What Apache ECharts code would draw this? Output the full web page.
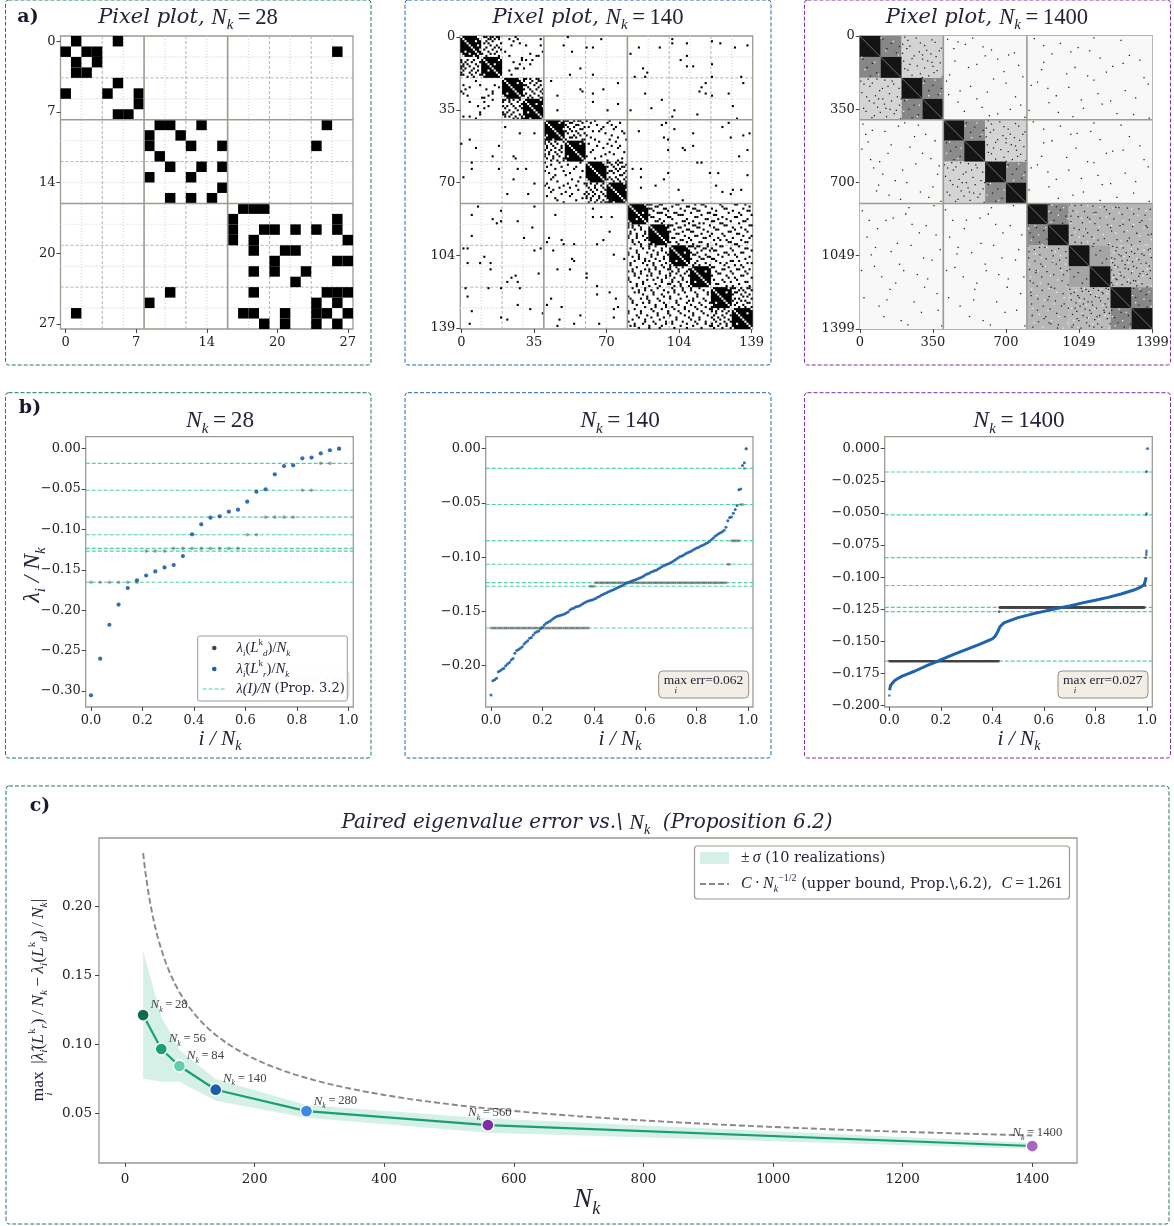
<!DOCTYPE html>
<html><head><meta charset="utf-8">
<style>html,body{margin:0;padding:0;background:#fff}#c{width:1174px;height:1226px}</style>
<script src="https://cdn.jsdelivr.net/npm/echarts@6/dist/echarts.min.js"></script>
</head><body><div id="c"></div>
<script>
// ------------------ DATA ------------------
const ticks28=[0,6.75,13.5,20.25,27], ticks140=[0,34.75,69.5,104.25,139], ticks1400=[0,349.75,699.5,1049.25,1399];
const solid28=[7.5,15.5], dashed28=[3.5,11.5,19.5,23.5], dotted28=[1.5,5.5,9.5,13.5,17.5,21.5,25.5];
const solid140=[39.5,79.5], dashed140=[19.5,59.5,99.5,119.5], dotted140=[9.5,29.5,49.5,69.5,89.5,109.5,129.5];
const solid1400=[399.5,799.5], dashed1400=[199.5,599.5,999.5,1199.5], dotted1400=[99.5,299.5,499.5,699.5,899.5,1099.5,1299.5];
// upper-triangle black cells, symmetric matrix
const edges28=[[0,1],[0,5],[1,2],[1,3],[1,26],[2,3],[4,5],[5,7],[6,7],[8,9],[8,10],[8,13],[8,25],[9,11],[10,12],[10,15],[10,24],[12,13],[12,15],[14,15],[16,17],[16,18],[16,19],[17,26],[18,19],[18,20],[18,22],[18,24],[18,26],[19,27],[20,21],[20,22],[21,26],[21,27],[22,23],[24,25],[24,26],[24,27],[25,26],[26,27]];
// [row, columns...] inside the three communities
const intra140=[
[0,11,12,14,15,17,18,26],[1,13,14,16,18,23,27,38],[2,12,15,25],[3,11,13,19,28],[4,14,17,24,31,38],[5,12,16,18],[6,11,15,19],[7,13,17,21,39],[8,10,14,16,33],[9,12,18,23,36,37],
[10,29],[11,29,31,34],[12,25],[13,28,33],[15,26,27,30],[16,23],[18,24],
[20,30,31,33,36,37],[21,30,34,37,38],[22,33,36],[23,30,31,35,38],[24,32,37],[25,30,33,36,39],[26,34,38],[27,31,35,39],[28,30,33,37],[29,32,34,38,39],
[40,50,51,54,56,57,60,64,71],[41,52,53,58,62,70,76],[42,50,55,56,65,72],[43,51,54,59,61,68,74],[44,52,57,58,67,73],[45,50,53,55,63,66,77],[46,51,56,59,69,78],[47,54,57,60,72],[48,52,53,55,62,75],[49,50,58,59,64,71,79],
[50,66,74],[51,61,70],[52,65,72,76],[53,68,75],[54,63],[55,62,71,78],[56,69,73],[57,60,67],[58,64,77],[59,70,75],
[60,70,71,74,76,77],[61,72,75,79],[62,70,73,77,78],[63,74,76],[64,71,72,75,79],[65,70,73,78],[66,76,77],[67,71,74,79],[68,70,72,75,78],[69,73,76,79],
[80,90,91,95,96,103,104,112,115,116,124,131,132,136],[81,93,94,101,108,109,117,125,138],[82,90,91,97,98,105,111,112,120,126,127,135],[83,92,99,107,113,114,122,130,137,138],[84,94,95,96,102,103,110,118,119,128,133],[85,90,98,104,105,106,115,121,122,134,139],[86,91,92,99,100,112,113,125,131,132],[87,95,101,108,117,118,123,127,137],[88,93,94,97,106,107,111,120,121,129,135,136],[89,96,103,109,114,116,124,125,133],
[90,100,101,107,111,112,119,126,127,138,139],[91,104,105,113,114,121,130,134],[92,102,108,109,116,122,123,131,136],[93,100,106,110,111,118,128,129,137],[94,103,104,115,120,125,132,133],[95,107,112,113,119,126,135,139],[96,101,102,109,116,117,123,130,138],[97,105,106,110,121,124,127,134],[98,100,103,108,114,115,128,129,136,137],[99,104,111,118,122,131,132],
[100,110,111,113,114,118,124,125,133],[101,112,116,117,120,129,136,137],[102,115,119,121,122,130,139],[103,110,113,126,127,134,135],[104,111,112,117,123,128,131],[105,114,118,119,125,132,138],[106,110,115,116,120,121,136],[107,113,122,129,130,133],[108,112,117,124,127,137,139],[109,111,114,119,126,131,134],
[110,120,121,128,135],[111,125,126,132,133,138],[112,122,129,136],[113,123,124,130,137],[114,120,127,134,135],[115,128,131,139],[116,121,125,132],[117,126,129,136,137],[118,122,123,133],[119,127,130,138],
[120,130,131,134,137,138],[121,133,135,139],[122,131,132,136],[123,130,134,138],[124,135,137],[125,131,133,139],[126,130,134,136],[127,132,137,138],[128,131,135],[129,133,136,139]];
// [row, columns...] between communities
const inter140=[[0,51],[1,67,101],[2,120],[3,101,108,124],[4,49,137],[5,60,63,85,95,131],[7,53],[8,81],[9,108],[11,105],[13,120],[14,108,111],[15,57,87],[17,89],[18,52,63],[19,83,88,120,134],[21,43],[22,75,117,135],[24,115],[25,57,68],[26,58,114],[27,63,88,117,128],[28,46,120],[30,96],[31,63],[32,75],[33,130],[34,91],[35,46,70,81,102],[37,113],[38,101],[39,132],[41,98,128],[42,96],[43,125],[44,102],[45,85],[46,111,138],[47,135],[48,97,129],[49,99],[52,111],[53,106],[54,99,107,137],[57,133],[60,113,115],[63,82,86],[65,99,119,123],[66,137],[67,86],[68,97],[71,93,122],[72,86],[73,104,130,134],[74,125],[75,129],[78,106]];
// dense black blocks on the diagonal [first,last]
const blocks140=[[0,9],[10,19],[20,29],[30,39],[40,49],[50,59],[60,69],[70,79],[80,89],[90,99],[100,109],[110,119],[120,129],[130,139]];
const holes140=[[0,8],[0,9],[1,9],[2,7],[4,8],[6,9],[10,19],[11,18],[13,16],[20,28],[20,29],[21,29],[22,27],[30,38],[32,36],[33,39],[40,48],[41,47],[44,49],[50,59],[51,57],[60,68],[60,69],[61,69],[70,78],[73,79],[80,88],[81,89],[84,87],[90,98],[92,99],[100,108],[101,109],[103,107],[110,119],[112,117],[120,128],[122,127],[130,139],[132,137]];
const blocks1400=[[0,99],[100,199],[200,299],[300,399],[400,499],[500,599],[600,699],[700,799],[800,899],[900,999],[1000,1099],[1100,1199],[1200,1299],[1300,1399]];
// density blocks: [c0,c1,r0,r1,grey]
const tints1400=[[100,199,0,99,135],[300,399,200,299,135],[500,599,400,499,140],[700,799,600,699,140],[200,399,0,199,212],[600,799,400,599,212],[900,999,800,899,140],[1100,1199,1000,1099,165],[1300,1399,1200,1299,135],[1000,1399,800,999,182],[1200,1399,1000,1199,186],[400,799,0,399,248],[800,1399,0,399,248],[800,1399,400,799,248]];
const dots1400=[[15,420],[40,505],[66,630],[90,712],[120,455],[135,560],[170,690],[195,780],[215,415],[240,530],[268,610],[290,745],[315,470],[340,585],[372,660],[388,790],[28,470],[52,590],[80,740],[110,660],[150,520],[185,430],[225,700],[262,480],[300,560],[330,770],[360,500],[380,620],[10,540],[60,450],[95,600],[140,760],[205,640],[280,425],[350,720],
[12,835],[35,960],[70,1100],[92,1290],[125,880],[150,1030],[172,1180],[198,1360],[220,850],[245,1000],[275,1140],[295,1320],[318,905],[345,1070],[370,1230],[392,1385],[20,1250],[55,1045],[85,920],[115,1340],[145,1210],[180,990],[210,1120],[235,820],[260,1270],[285,940],[325,1160],[355,810],[385,1020],[45,880],[105,1150],[160,870],[230,1380],[305,1060],[375,1310],[8,1120],[75,1010],[130,1260],[190,1090],[250,900],[310,1200],[365,950],
[410,830],[430,960],[455,1105],[480,1290],[510,880],[535,1035],[560,1180],[590,1360],[615,850],[640,1000],[665,1140],[695,1320],[720,905],[745,1070],[770,1230],[790,1385],[425,1250],[465,1040],[500,920],[525,1340],[550,1210],[580,990],[605,1120],[630,820],[655,1270],[685,940],[710,1160],[735,810],[760,1020],[785,1150],[445,880],[495,1150],[575,870],[625,1380],[680,1060],[750,1310],[415,1120],[470,1010],[545,1260],[600,1090],[650,900],[705,1200],[775,950],
[20,230],[45,310],[70,380],[95,260],[120,210],[145,350],[180,290],[195,395],[10,270],[60,225],[85,340],[110,300],[135,240],[165,370],[30,360],[75,285],[155,215],[190,330],[5,215],[18,345],[33,290],[48,240],[58,390],[68,320],[82,205],[98,365],[108,250],[118,325],[128,385],[142,275],[152,310],[162,230],[175,355],[188,250],[198,300],[40,205],[90,300],[125,345],
[420,630],[445,710],[470,780],[495,660],[520,610],[545,750],[580,690],[595,795],[410,670],[460,625],[485,740],[510,700],[535,640],[565,770],[430,760],[475,685],[555,615],[590,730],[405,615],[418,745],[433,690],[448,640],[458,790],[468,720],[482,605],[498,765],[508,650],[518,725],[528,785],[542,675],[552,710],[562,630],[575,755],[588,650],[598,700],[440,605],[490,700],[525,745],
[110,15],[130,60],[150,35],[175,80],[190,50],[310,215],[330,260],[350,235],[375,280],[390,250],[510,415],[530,460],[550,435],[575,480],[590,450],[710,615],[730,660],[750,635],[775,680],[790,650],
[810,1030],[830,1180],[850,1310],[875,1100],[900,1260],[925,1050],[950,1380],[975,1140],[820,1240],[860,1010],[890,1340],[915,1200],[940,1090],[965,1290],[985,1030],[845,1120],[905,1370],[1010,1230],[1040,1350],[1070,1280],[1095,1220],[1120,1390],[1145,1250],[1170,1320],[1190,1210],[1030,1300],[1060,1205],[1085,1370],[1110,1270],[1135,1340],[1160,1225],[1180,1295],[1015,1390],[1050,1250],[1100,1310],
[805,1005],[808,1060],[812,1115],[815,1170],[818,1225],[822,1280],[825,1335],[828,1390],[835,1020],[838,1075],[842,1130],[848,1195],[852,1255],[855,1365],[862,1045],[866,1090],[870,1150],[873,1215],[878,1290],[882,1350],[886,1010],[892,1065],[896,1125],[902,1185],[906,1245],[910,1305],[914,1375],[918,1025],[922,1080],[928,1140],[932,1205],[936,1265],[942,1325],[946,1395],[952,1015],[956,1070],[960,1110],[968,1170],[972,1230],[978,1280],[982,1340],[988,1060],[992,1120],[996,1190],[998,1300],
[1005,1210],[1012,1260],[1018,1330],[1022,1380],[1026,1225],[1034,1275],[1038,1315],[1044,1240],[1048,1360],[1054,1290],[1058,1395],[1064,1220],[1068,1335],[1074,1255],[1078,1305],[1082,1210],[1088,1345],[1092,1270],[1098,1385],[1104,1235],[1108,1325],[1114,1285],[1118,1205],[1124,1355],[1128,1245],[1132,1300],[1138,1375],[1142,1215],[1148,1335],[1152,1265],[1158,1390],[1164,1230],[1168,1310],[1174,1280],[1178,1205],[1184,1350],[1188,1255],[1194,1325],[1198,1375],
[805,905],[815,940],[830,960],[845,915],[860,985],[880,930],[895,970],[1205,1310],[1220,1345],[1235,1370],[1250,1320],[1265,1390],[1285,1335],[1295,1375],[1005,1115],[1025,1150],[1045,1130],[1065,1180],[1085,1160]];
// white gaps inside the grey speckle
const gaps1400=[[804,1010],[810,1090],[818,1150],[822,1210],[826,1300],[834,1370],[840,1040],[846,1240],[852,1120],[858,1330],[864,1180],[870,1060],[876,1390],[882,1260],[888,1100],[894,1010],[900,1310],[906,1205],[912,1145],[918,1360],[924,1075],[930,1280],[936,1030],[942,1225],[948,1165],[954,1340],[960,1050],[966,1120],[972,1395],[978,1250],[984,1090],[990,1195],[996,1370],[1004,1250],[1014,1300],[1024,1360],[1034,1215],[1044,1390],[1054,1265],[1064,1325],[1074,1205],[1084,1285],[1094,1345],[1104,1225],[1114,1375],[1124,1305],[1134,1240],[1144,1355],[1154,1210],[1164,1285],[1174,1335],[1184,1230],[1194,1395],
[808,920],[820,975],[838,905],[855,950],[872,995],[890,915],[1208,1340],[1222,1385],[1240,1305],[1258,1360],[1275,1320],[1292,1395],[102,10],[125,72],[160,25],[185,90],[305,225],[330,285],[360,210],[385,275],[505,430],[535,485],[560,415],[585,470],[705,625],[735,690],[760,610],[785,665]];
const xTicksFrac=[0,0.2,0.4,0.6,0.8,1];
const prop32=[-0.0182,-0.0515,-0.0848,-0.1065,-0.1235,-0.1268,-0.1653];
const ticksY28=[0,-0.05,-0.10,-0.15,-0.20,-0.25,-0.30], ticksY140=[0,-0.05,-0.10,-0.15,-0.20], ticksY1400=[0,-0.025,-0.05,-0.075,-0.10,-0.125,-0.15,-0.175,-0.20];
const blue28=[-0.3054,-0.260,-0.218,-0.193,-0.1725,-0.163,-0.157,-0.152,-0.147,-0.144,-0.133,-0.106,-0.0937,-0.0854,-0.0838,-0.078,-0.0755,-0.0656,-0.0532,-0.0503,-0.0318,-0.0215,-0.0206,-0.012,-0.0111,-0.0058,-0.002,0];
// [value,count] runs of the deterministic spectrum
const greyRuns28=[[-0.1653,6],[-0.1268,3],[-0.1235,8],[-0.1065,2],[-0.0848,4],[-0.0515,2],[-0.0182,2],[0,1]];
const greyRuns140=[[-0.1653,54],[-0.1268,3],[-0.1235,72],[-0.1065,2],[-0.0848,5],[-0.0515,2],[-0.0182,1],[0,1]];
const greyRuns1400=[[-0.1653,596],[-0.1268,3],[-0.1235,790],[-0.1065,4],[-0.0848,3],[-0.0515,2],[-0.0182,1],[0,1]];
const blue140=[-0.227,-0.2138,-0.213,-0.2117,-0.2055,-0.2046,-0.2034,-0.2025,-0.2,-0.1985,-0.197,-0.1948,-0.1935,-0.1886,-0.186,-0.185,-0.184,-0.1825,-0.18,-0.1785,-0.177,-0.1748,-0.174,-0.1717,-0.1696,-0.1687,-0.168,-0.166,-0.1647,-0.1625,-0.161,-0.16,-0.159,-0.158,-0.1565,-0.1555,-0.1545,-0.154,-0.1535,-0.153,-0.1525,-0.1515,-0.1505,-0.1488,-0.1475,-0.147,-0.146,-0.1455,-0.145,-0.144,-0.143,-0.142,-0.141,-0.1405,-0.14,-0.1395,-0.1388,-0.138,-0.137,-0.1362,-0.1352,-0.1345,-0.1335,-0.1328,-0.132,-0.1312,-0.1305,-0.1298,-0.129,-0.128,-0.1272,-0.1265,-0.1258,-0.1245,-0.1238,-0.1232,-0.1225,-0.1218,-0.1212,-0.1205,-0.1198,-0.1192,-0.1185,-0.1175,-0.1165,-0.1155,-0.115,-0.114,-0.1132,-0.1125,-0.112,-0.111,-0.11,-0.1088,-0.108,-0.1072,-0.1065,-0.1058,-0.105,-0.104,-0.1028,-0.1018,-0.1005,-0.0995,-0.099,-0.098,-0.0968,-0.096,-0.0952,-0.0945,-0.0935,-0.0925,-0.0915,-0.091,-0.09,-0.0892,-0.0885,-0.0875,-0.0868,-0.0855,-0.084,-0.0825,-0.0808,-0.0795,-0.0785,-0.0775,-0.0765,-0.0752,-0.0725,-0.0665,-0.0635,-0.063,-0.0595,-0.056,-0.0525,-0.0378,-0.0372,-0.0155,-0.013,0];
const blue1400x=[0.001,0.005,0.01,0.02,0.03,0.05,0.07,0.1,0.15,0.19,0.25,0.3,0.35,0.4,0.41,0.42,0.43,0.44,0.45,0.5,0.55,0.6,0.65,0.7,0.75,0.8,0.85,0.9,0.95,0.98,0.99,0.995,0.997];
const blue1400y=[-0.188,-0.184,-0.1826,-0.1805,-0.1792,-0.177,-0.1754,-0.173,-0.1684,-0.1652,-0.16,-0.1562,-0.1523,-0.148,-0.1463,-0.1429,-0.1385,-0.1364,-0.1351,-0.1315,-0.1289,-0.1266,-0.1243,-0.1224,-0.12,-0.118,-0.1157,-0.1131,-0.11,-0.1074,-0.1056,-0.1022,-0.1];
const blueOut1400=[[0,-0.192],[0.998,-0.0825],[0.9985,-0.081],[0.999,-0.0795],[0.9992,-0.0505],[0.9995,-0.0178],[1.004,0]];
const nk=[28,56,84,140,280,560,1400];
const errMean=[0.121,0.0964,0.0841,0.0669,0.0514,0.0413,0.0261];
const errUpper=[0.1674,0.1198,0.0957,0.0746,0.0558,0.0461,0.0285];
const errLower=[0.0751,0.0727,0.0727,0.0589,0.0466,0.0357,0.0240];
const boundN=[28,30,32,34,36,38,40,43,46,50,56,63,70,77,84,92,100,110,120,130,140,155,170,185,200,220,240,260,280,310,340,370,400,440,480,520,560,630,700,775,850,925,1000,1100,1200,1300,1400];
const boundV=[0.2383,0.2302,0.2229,0.2163,0.2102,0.2046,0.1994,0.1923,0.1859,0.1783,0.1685,0.1589,0.1507,0.1437,0.1376,0.1315,0.1261,0.1202,0.1151,0.1106,0.1066,0.1013,0.0967,0.0927,0.0892,0.085,0.0814,0.0782,0.0754,0.0716,0.0684,0.0656,0.0631,0.0601,0.0576,0.0553,0.0533,0.0502,0.0477,0.0453,0.0433,0.0415,0.0399,0.038,0.0364,0.035,0.0337];
const cXTicks=[0,200,400,600,800,1000,1200,1400], cYTicks=[0.05,0.10,0.15,0.20];
const markerColors=['#0f6b50','#1a9e75','#5fcfa8','#1a5fa8','#3a8ae0','#7b2fa0','#a868c0'];
const labelShift=[[26,-10],[26,-10],[26,-10],[29,-11],[29,-10],[2,-12],[5,-13]];

// ------------------ HELPERS ------------------
const SERIF='"DejaVu Serif"', MATH='"Liberation Serif"', INK='#23233a', SPINE='#9b9b90';
function rich(s,c){c=c||INK;const lh=Math.round(s*1.45),sm=Math.round(s*0.7);
 return {t:{fontFamily:SERIF,fontStyle:'italic',fontSize:s,lineHeight:lh,fill:c,color:c},
  i:{fontFamily:MATH,fontStyle:'italic',fontSize:s*1.1,lineHeight:lh,fill:c,color:c},
  u:{fontFamily:MATH,fontSize:s*1.08,lineHeight:lh,fill:c,color:c},
  d:{fontFamily:SERIF,fontSize:s,lineHeight:lh,fill:c,color:c},
  s:{fontFamily:MATH,fontStyle:'italic',fontSize:sm,lineHeight:sm+2,verticalAlign:'bottom',fill:c,color:c},
  p:{fontFamily:MATH,fontSize:sm,lineHeight:sm+2,verticalAlign:'top',fill:c,color:c}};}
function txt(x,y,text,size,opt){opt=opt||{};return {type:'text',x:x,y:y,z:opt.z||100,rotation:opt.rot||0,silent:true,
  style:{text:text,rich:rich(size,opt.color),align:opt.align||'center',verticalAlign:'middle',fill:opt.color||INK,
  fontFamily:opt.family||MATH,fontSize:size,fontWeight:opt.weight||'normal',opacity:opt.opacity==null?1:opt.opacity}};}
const grid=[],xAxis=[],yAxis=[],series=[],graphic=[];
function axisCommon(ticks,fmt,fs,m){return {type:'value',axisLine:{show:false,onZero:false},splitLine:{show:false},
  axisTick:{show:true,length:4,customValues:ticks,lineStyle:{color:'#444',width:1}},
  axisLabel:{show:true,customValues:ticks,formatter:fmt,fontFamily:SERIF,fontSize:fs,color:'#222',margin:m,hideOverlap:false,showMinLabel:true,showMaxLabel:true}};}
function addPanel(box,xmin,xmax,ymin,ymax,xt,yt,xf,yf,inverse,fs,xm,ym){const k=grid.length;fs=fs||13;xm=xm||7;ym=ym||5;
 grid.push({left:box[0],top:box[1],width:box[2],height:box[3],show:true,borderColor:SPINE,borderWidth:1.3,backgroundColor:'#fff'});
 xAxis.push(Object.assign(axisCommon(xt,xf,fs,xm),{gridIndex:k,min:xmin,max:xmax,position:'bottom'}));
 yAxis.push(Object.assign(axisCommon(yt,yf,fs,ym),{gridIndex:k,min:ymin,max:ymax,inverse:!!inverse,position:'left'}));
 return k;}
function gridLines(k,vals,color,w,dash,z){series.push({type:'custom',xAxisIndex:k,yAxisIndex:k,z:z,silent:true,clip:true,animation:false,
 encode:{x:0},data:vals.map(v=>[v]),renderItem:(p,api)=>{const c=api.coord([api.value(0),api.value(0)]),s=p.coordSys;
  const st={stroke:color,lineWidth:w,lineDash:dash,fill:null};
  return {type:'group',children:[{type:'line',shape:{x1:c[0],y1:s.y,x2:c[0],y2:s.y+s.height},style:st},{type:'line',shape:{x1:s.x,y1:c[1],x2:s.x+s.width,y2:c[1]},style:st}]};}});}
function rects(k,data,color,z,pad){pad=pad==null?0.5:pad;series.push({type:'custom',xAxisIndex:k,yAxisIndex:k,z:z,silent:true,clip:true,animation:false,progressive:0,
 encode:{x:[0,1],y:[2,3]},data:data,renderItem:(p,api)=>{const a=api.coord([api.value(0)-pad,api.value(2)-pad]),b=api.coord([api.value(1)+pad,api.value(3)+pad]);
  let f=color;if(f==null){const g=api.value(4);f='rgb('+g+','+g+','+g+')';}
  return {type:'rect',shape:{x:a[0],y:a[1],width:b[0]-a[0],height:b[1]-a[1]},style:{fill:f}};}});}
function hLines(k,vals){series.push({type:'custom',xAxisIndex:k,yAxisIndex:k,z:2,silent:true,clip:true,animation:false,encode:{x:0,y:1},
 data:vals.map(v=>[0,v]),renderItem:(p,api)=>{const c=api.coord([0,api.value(1)]),s=p.coordSys;
  return {type:'line',shape:{x1:s.x,y1:c[1],x2:s.x+s.width,y2:c[1]},style:{stroke:'#4fd0a8',lineWidth:1.1,lineDash:[4,2],fill:null}};}});}
function mirror(list){const out=[];list.forEach(e=>{out.push([e[1],e[1],e[0],e[0]]);out.push([e[0],e[0],e[1],e[1]]);});return out;}
const rowsToPairs=rows=>{const o=[];rows.forEach(r=>r.slice(1).forEach(c=>o.push([r[0],c])));return o;};
const round0=v=>String(Math.round(v)), neg=(v,d)=>(v<0?'\u2212':'')+Math.abs(v).toFixed(d);
function pixelPanel(box,n,ticks,sol,das,dot){const k=addPanel(box,-0.5,n-0.5,-0.5,n-0.5,ticks,ticks,round0,round0,true);
 gridLines(k,dot,'#dcdcd6',1.4,[1,2],1);gridLines(k,das,'#b4b4ac',1,[3,2],1);gridLines(k,sol,'#9b9b90',1.6,null,6);return k;}
function expand(runs,n){const o=[];let i=0;runs.forEach(r=>{for(let j=0;j<r[1];j++){o.push([i/n,r[0]]);i++;}});return o;}
function specPanel(box,xmin,xmax,ymin,ymax,yt,dec,runs,n,gsize){const k=addPanel(box,xmin,xmax,ymin,ymax,xTicksFrac,yt,v=>v.toFixed(1),v=>neg(v,dec));
 hLines(k,prop32);
 series.push({type:'scatter',xAxisIndex:k,yAxisIndex:k,z:3,silent:true,animation:false,symbolSize:gsize,itemStyle:{color:'#444',opacity:0.45},data:expand(runs,n)});return k;}
function frame(x,y,w,h,c){graphic.push({type:'rect',z:90,silent:true,shape:{x:x,y:y,width:w,height:h,r:3},style:{fill:null,stroke:c,lineWidth:1,lineDash:[4,2]}});}
function errBox(x,val,opacity){graphic.push({type:'rect',z:opacity<1?91:95,silent:true,shape:{x:x,y:671,width:90,height:27,r:4},style:{fill:'#f2eee6',stroke:'#8f8f85',lineWidth:1,opacity:opacity}});
 graphic.push(txt(x+5,680,'max err='+val,13.5,{align:'left',color:INK,z:opacity<1?91:96,opacity:opacity}));
 if(opacity===1)graphic.push(txt(x+17,690,'{s|i}',13,{z:96}));}

// ------------------ PIXEL PANELS ------------------
const A=[36,293];
const p28=pixelPanel([60.5,A[0],292.5,A[1]],28,ticks28,solid28,dashed28,dotted28);
rects(p28,mirror(edges28),'#000',4);
const p140=pixelPanel([460.3,A[0],292.4,A[1]],140,ticks140,solid140,dashed140,dotted140);
rects(p140,blocks140.map(b=>[b[0],b[1],b[0],b[1]]),'#000',3);
rects(p140,mirror(rowsToPairs(intra140)),'#000',3);
rects(p140,mirror(rowsToPairs(inter140)),'#000',3);
rects(p140,mirror(holes140),'#fff',4);
rects(p140,Array.from({length:140},(_,i)=>[i,i,i,i]),'#fff',4);
const p1400=pixelPanel([859.7,A[0],292.6,A[1]],1400,ticks1400,solid1400,dashed1400,dotted1400);
rects(p1400,tints1400.flatMap(t=>[t,[t[2],t[3],t[0],t[1],t[4]]]),null,2);
rects(p1400,blocks1400.map(b=>[b[0],b[1],b[0],b[1]]),'#141414',3);
rects(p1400,mirror(dots1400),'#1a1a1a',4,3);
rects(p1400,mirror(gaps1400),'#f4f4f4',4,3);
blocks1400.forEach(b=>series.push({type:'line',xAxisIndex:p1400,yAxisIndex:p1400,z:5,silent:true,animation:false,symbol:'none',lineStyle:{color:'#8a8a8a',width:0.8},data:[[b[0],b[0]],[b[1],b[1]]]}));

// ------------------ SPECTRUM PANELS ------------------
const B=[436.7,270.3];
const s28=specPanel([85.7,B[0],267.6,B[1]],-0.0206,1.0194,-0.3198,0.0148,ticksY28,2,greyRuns28,28,3.6);
series.push({type:'scatter',xAxisIndex:s28,yAxisIndex:s28,z:4,silent:true,animation:false,symbolSize:4.2,itemStyle:{color:'#1a5fa8',opacity:0.9},data:blue28.map((v,i)=>[i/28,v])});
const s140=specPanel([485.7,B[0],267.3,B[1]],-0.0206,1.0194,-0.2381,0.011,ticksY140,2,greyRuns140,140,3);
series.push({type:'scatter',xAxisIndex:s140,yAxisIndex:s140,z:4,silent:true,animation:false,symbolSize:3,itemStyle:{color:'#1a5fa8',opacity:0.9},data:blue140.map((v,i)=>[i/140,v])});
const s1400=specPanel([884.7,B[0],267.6,B[1]],-0.0179,1.0214,-0.201,0.0093,ticksY1400,3,greyRuns1400,1400,2.4);
series.push({type:'line',xAxisIndex:s1400,yAxisIndex:s1400,z:4,silent:true,animation:false,symbol:'none',lineStyle:{color:'#1f63ad',width:3},data:blue1400x.map((x,i)=>[x,blue1400y[i]])});
series.push({type:'scatter',xAxisIndex:s1400,yAxisIndex:s1400,z:4,silent:true,animation:false,symbolSize:2.6,itemStyle:{color:'#1a5fa8'},data:blueOut1400});

// ------------------ PANEL C ------------------
const c=addPanel([99,838,978,325],-40.1,1469,0.0138,0.2493,cXTicks,cYTicks,round0,v=>v.toFixed(2),false,13.5,9,7);
series.push({type:'custom',xAxisIndex:c,yAxisIndex:c,z:2,silent:true,animation:false,encode:{x:0,y:[1,2]},data:nk.map((n,i)=>[n,errLower[i],errUpper[i]]),
 renderItem:(p,api)=>{if(p.dataIndex!==0)return null;const pts=[];nk.forEach((n,i)=>pts.push(api.coord([n,errUpper[i]])));
  for(let i=nk.length-1;i>=0;i--)pts.push(api.coord([nk[i],errLower[i]]));
  return {type:'polygon',shape:{points:pts},style:{fill:'#d5f0e6'}};}});
series.push({type:'line',xAxisIndex:c,yAxisIndex:c,z:3,silent:true,animation:false,symbol:'none',smooth:false,lineStyle:{color:'#888',width:1.9,type:[6,3]},data:boundN.map((n,i)=>[n,boundV[i]])});
series.push({type:'line',xAxisIndex:c,yAxisIndex:c,z:4,silent:true,animation:false,symbol:'circle',symbolSize:12,lineStyle:{color:'#1a9e75',width:2.2},
 data:nk.map((n,i)=>({value:[n,errMean[i]],itemStyle:{color:markerColors[i],borderColor:'#fff',borderWidth:1.3},
  label:{show:true,position:'inside',offset:labelShift[i],formatter:'{i|N}{s|k}{u|\u2009=\u2009'+n+'}',rich:rich(11.8,'#444')}}))});

// ------------------ TEXT & FRAMES ------------------
frame(5.5,0,365.5,365,'#1a7a5e');frame(405,0,366,365,'#2166ac');frame(804.5,0,366,365,'#7b2fa8');
frame(5.5,392.7,365.5,365.3,'#1a7a5e');frame(405,392.7,366,365.3,'#2166ac');frame(804.5,392.7,366,365.3,'#7b2fa8');
frame(6,786,1163,438,'#1a7a5e');
graphic.push(txt(28,17,'a)',19,{family:SERIF,weight:'bold',color:'#1a1a2e'}),txt(30,408,'b)',19,{family:SERIF,weight:'bold',color:'#1a1a2e'}),txt(40,806,'c)',19,{family:SERIF,weight:'bold',color:'#1a1a2e'}));
[[188,'28'],[588,'140'],[987,'1400']].forEach(t=>graphic.push(txt(t[0],18,'{t|Pixel plot, }{i|N}{s|k}{u|\u2009=\u2009'+t[1]+'}',21)));
[[220,'28'],[620,'140'],[1019,'1400']].forEach(t=>{graphic.push(txt(t[0],421,'{i|N}{s|k}{u|\u2009=\u2009'+t[1]+'}',21.5));
 graphic.push(txt(t[0],739,'{i|i / N}{s|k}',19.5));});
graphic.push(txt(33,575,'{i|\u03bb}{s|i}{i| / N}{s|k}',21.5,{rot:Math.PI/2}));
graphic.push(txt(587,823,'{t|Paired eigenvalue error vs.\\ }{i|N}{s|k}{t|  (Proposition 6.2)}',20));
graphic.push(txt(587,1200,'{i|N}{s|k}',25));
graphic.push(txt(38,1000,'{u|max }{u|\u2009|}{i|\u03bb\u0302}{s|i}{u|(}{i|L}{p|k}{s|r}{u|)\u2009/\u2009}{i|N}{s|k}{u|\u2009\u2212\u2009}{i|\u03bb}{s|i}{u|(}{i|L}{p|k}{s|d}{u|)\u2009/\u2009}{i|N}{s|k}{u||}',16,{rot:Math.PI/2}));
graphic.push(txt(48,1094,'{s|i}',16,{rot:Math.PI/2}));
errBox(259,'0.140',0.35);errBox(658.7,'0.062',1);errBox(1058,'0.027',1);
// legend of b)
graphic.push({type:'rect',z:92,silent:true,shape:{x:197.7,y:636,width:149.6,height:65,r:2},style:{fill:'rgba(255,255,255,0.92)',stroke:'#9b9b90',lineWidth:1}});
graphic.push({type:'circle',z:93,silent:true,shape:{cx:214.3,cy:648,r:2.3},style:{fill:'#444'}},{type:'circle',z:93,silent:true,shape:{cx:214.3,cy:669,r:2.3},style:{fill:'#1a5fa8'}},
 {type:'line',z:93,silent:true,shape:{x1:202.7,y1:689,x2:226.7,y2:689},style:{stroke:'#4fd0a8',lineWidth:1,lineDash:[4,2]}});
graphic.push(txt(236.5,648,'{i|\u03bb}{s|i}{u|(}{i|L}{p|k}{s|d}{u|)/}{i|N}{s|k}',13.5,{align:'left'}),
 txt(236.5,669,'{i|\u03bb\u0302}{s|i}{u|(}{i|L}{p|k}{s|r}{u|)/}{i|N}{s|k}',13.5,{align:'left'}),
 txt(236.5,689,'{i|\u03bb(I)/N}{d| (Prop. 3.2)}',13,{align:'left',family:SERIF}));
// legend of c)
graphic.push({type:'rect',z:92,silent:true,shape:{x:694.5,y:846,width:375,height:53,r:3},style:{fill:'rgba(255,255,255,0.92)',stroke:'#9b9b90',lineWidth:1.2}});
graphic.push({type:'rect',z:93,silent:true,shape:{x:700,y:852,width:29,height:12},style:{fill:'#d5f0e6'}},{type:'line',z:93,silent:true,shape:{x1:700,y1:884,x2:729,y2:884},style:{stroke:'#888',lineWidth:1.9,lineDash:[6,3]}});
graphic.push(txt(741,858,'{u|\u00b1}{i|\u2009\u03c3}{d| (10 realizations)}',14.5,{align:'left'}),
 txt(741,884,'{i|C}{u|\u2009\u00b7\u2009}{i|N}{s|k}{p|\u22121/2}{d| (upper bound, Prop.\\,6.2),  }{i|C}{u|\u2009=\u20091.261}',14.5,{align:'left'}));

const chart=echarts.init(document.getElementById('c'),null,{renderer:'canvas',width:1174,height:1226});
chart.setOption({animation:false,backgroundColor:'#fff',grid:grid,xAxis:xAxis,yAxis:yAxis,series:series,graphic:{elements:graphic}});
</script></body></html>
